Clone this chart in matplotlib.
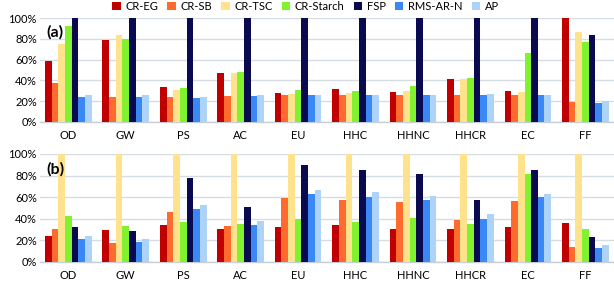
import matplotlib
matplotlib.use("Agg")
import matplotlib.pyplot as plt
import numpy as np
from matplotlib.patches import Patch
from matplotlib.ticker import FuncFormatter

plt.rcParams['font.family'] = ['Lato', 'DejaVu Sans']

categories = ["OD", "GW", "PS", "AC", "EU", "HHC", "HHNC", "HHCR", "EC", "FF"]
series_names = ["CR-EG", "CR-SB", "CR-TSC", "CR-Starch", "FSP", "RMS-AR-N", "AP"]
colors = ["#C00000", "#FF6A2E", "#FFE38C", "#80F22E", "#0A0A50", "#3A88F5", "#AED3F8"]

# Panel (a) values (fractions)
a_cr_eg     = [0.584, 0.794, 0.34, 0.468, 0.277, 0.313, 0.287, 0.413, 0.294, 1.00]
a_cr_sb     = [0.374, 0.24, 0.235, 0.25, 0.26, 0.26, 0.26, 0.26, 0.258, 0.194]
a_cr_tsc    = [0.755, 0.835, 0.31, 0.47, 0.268, 0.28, 0.297, 0.416, 0.284, 0.868]
a_cr_starch = [0.93, 0.797, 0.33, 0.48, 0.306, 0.30, 0.35, 0.426, 0.665, 0.77]
a_fsp       = [1.00, 1.00, 1.00, 1.00, 1.00, 1.00, 1.00, 1.00, 1.00, 0.835]
a_rms       = [0.24, 0.235, 0.23, 0.245, 0.258, 0.258, 0.258, 0.26, 0.258, 0.177]
a_ap        = [0.258, 0.258, 0.235, 0.255, 0.258, 0.26, 0.258, 0.265, 0.258, 0.197]

# Panel (b) values (fractions)
b_cr_eg     = [0.24, 0.29, 0.34, 0.30, 0.32, 0.34, 0.30, 0.305, 0.32, 0.355]
b_cr_sb     = [0.30, 0.176, 0.46, 0.33, 0.596, 0.57, 0.55, 0.39, 0.565, 0.136]
b_cr_tsc    = [1.00, 1.00, 1.00, 1.00, 1.00, 1.00, 1.00, 1.00, 1.00, 1.00]
b_cr_starch = [0.42, 0.33, 0.37, 0.35, 0.40, 0.37, 0.407, 0.35, 0.81, 0.30]
b_fsp       = [0.32, 0.287, 0.775, 0.506, 0.90, 0.855, 0.815, 0.577, 0.85, 0.23]
b_rms       = [0.21, 0.18, 0.485, 0.34, 0.63, 0.60, 0.57, 0.40, 0.60, 0.13]
b_ap        = [0.24, 0.21, 0.525, 0.377, 0.67, 0.645, 0.61, 0.44, 0.63, 0.154]

panel_a = [a_cr_eg, a_cr_sb, a_cr_tsc, a_cr_starch, a_fsp, a_rms, a_ap]
panel_b = [b_cr_eg, b_cr_sb, b_cr_tsc, b_cr_starch, b_fsp, b_rms, b_ap]

W, H = 614, 283
fig = plt.figure(figsize=(W / 100, H / 100), dpi=100)

left = 39.6 / W
width = 1 - left
ax_a = fig.add_axes([left, (H - 121.7) / H, width, 103.4 / H])
ax_b = fig.add_axes([left, (H - 261.7) / H, width, 107.7 / H])

x = np.arange(len(categories))
bw = 0.116
grid_color = "#D5DCE4"

for ax, data, lab in [(ax_a, panel_a, "(a)"), (ax_b, panel_b, "(b)")]:
    for i, (vals, c) in enumerate(zip(data, colors)):
        ax.bar(x + (i - 3) * bw, vals, width=bw, color=c, linewidth=0, zorder=3)
    ax.set_xlim(-0.5, 9.5)
    ax.set_ylim(0, 1.0)
    ax.set_yticks(np.arange(0, 1.01, 0.2))
    ax.yaxis.set_major_formatter(FuncFormatter(lambda v, p: f"{int(round(v * 100))}%"))
    ax.grid(axis="y", color=grid_color, linewidth=1.0, zorder=0)
    ax.set_xticks(x)
    ax.set_xticklabels(categories)
    ax.tick_params(axis="x", length=0, pad=6, labelsize=8, colors="#000000")
    ax.tick_params(axis="y", length=0, pad=2, labelsize=8, colors="#000000")
    for s in ["top", "right", "left"]:
        ax.spines[s].set_visible(False)
    ax.spines["bottom"].set_color("#C8CED6")
    ax.spines["bottom"].set_linewidth(1.0)
    ax.text(0.012, 0.86, lab, transform=ax.transAxes, fontsize=11.5,
            fontweight="bold", ha="left", va="center", zorder=5)

handles = [Patch(facecolor=c, edgecolor="none") for c in colors]
fig.legend(handles, series_names, loc="center", bbox_to_anchor=(0.4975, 1 - 6.5 / H),
           ncol=7, frameon=False, fontsize=8, handlelength=0.75, handleheight=0.75,
           handletextpad=0.4, columnspacing=0.85, borderpad=0)

fig.savefig("out.png", dpi=100)
